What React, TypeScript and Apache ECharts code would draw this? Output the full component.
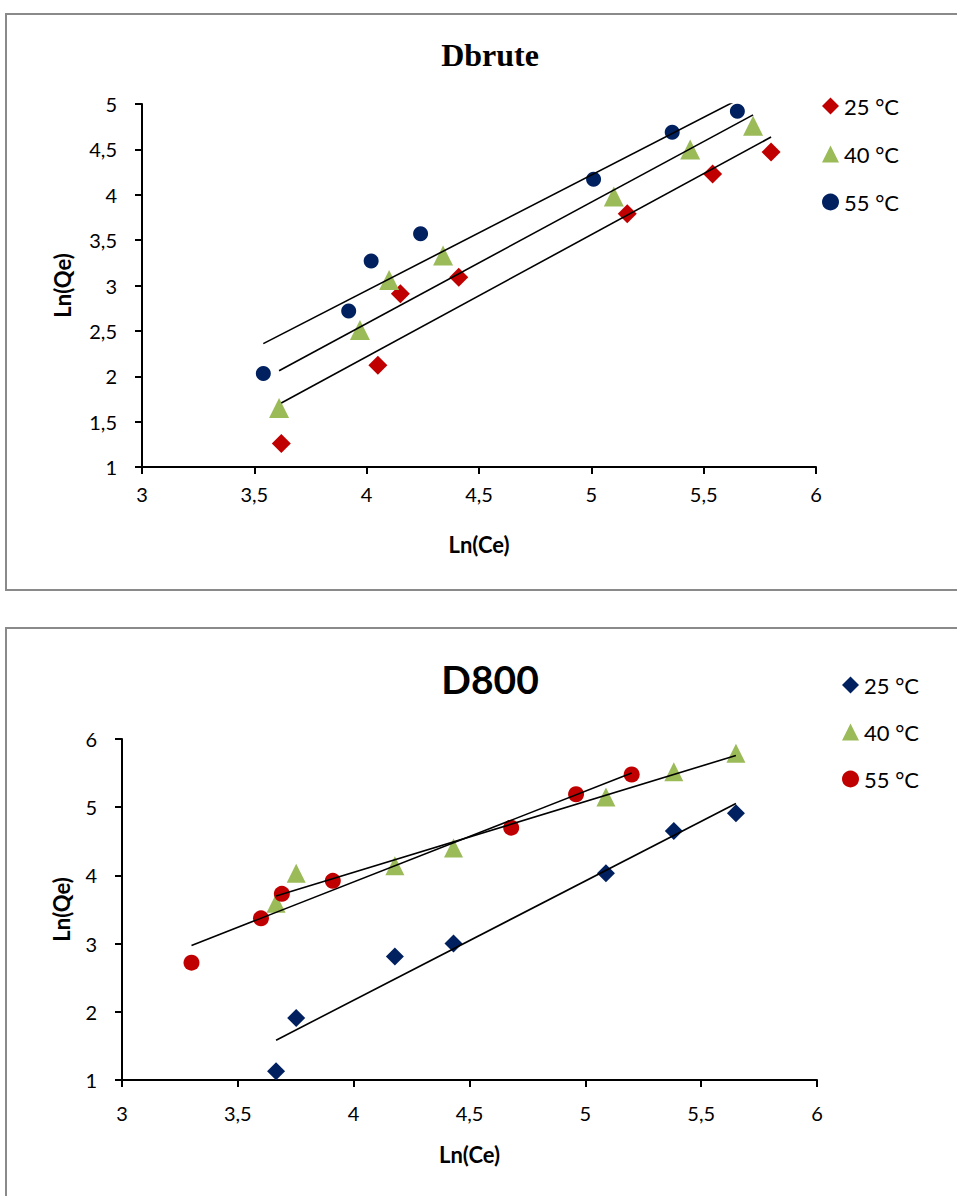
import React, { useEffect, useRef } from "react";
import * as echarts from "echarts";

// Dbrute: Ln(Ce) / Ln(Qe) at three temperatures
const dbruteX25 = [3.62, 4.05, 4.15, 4.41, 5.16, 5.54, 5.8];
const dbruteY25 = [1.26, 2.12, 2.91, 3.09, 3.79, 4.23, 4.47];
const dbruteX40 = [3.61, 3.97, 4.1, 4.34, 5.1, 5.44, 5.72];
const dbruteY40 = [1.65, 2.51, 3.06, 3.33, 3.98, 4.5, 4.76];
const dbruteX55 = [3.54, 3.92, 4.02, 4.24, 5.01, 5.36, 5.65];
const dbruteY55 = [2.03, 2.72, 3.27, 3.57, 4.17, 4.69, 4.92];

// D800: Ln(Ce) / Ln(Qe) at three temperatures
const d800X25 = [3.665, 3.752, 4.178, 4.431, 5.089, 5.382, 5.65];
const d800Y25 = [1.13, 1.91, 2.81, 3.0, 4.03, 4.65, 4.91];
const d800X40 = [3.665, 3.752, 4.178, 4.431, 5.089, 5.382, 5.65];
const d800Y40 = [3.59, 4.03, 4.14, 4.4, 5.15, 5.52, 5.79];
const d800X55 = [3.3, 3.6, 3.69, 3.91, 4.68, 4.96, 5.2];
const d800Y55 = [2.72, 3.37, 3.73, 3.92, 4.7, 5.19, 5.48];

const seriesNames = ["25 °C", "40 °C", "55 °C"];

const RED = "#C00000";
const GREEN = "#9BBB59";
const NAVY = "#002060";
const CALIBRI = "Lato";

const fmt = (v: number) => String(v).replace(".", ",");

const pairs = (xs: number[], ys: number[]) => xs.map((x, i) => [x, ys[i]]);

// Least-squares linear trendline spanning the x range of the points
function trend(xs: number[], ys: number[]) {
  const n = xs.length;
  const mx = xs.reduce((a, b) => a + b, 0) / n;
  const my = ys.reduce((a, b) => a + b, 0) / n;
  let sxy = 0;
  let sxx = 0;
  for (let i = 0; i < n; i++) {
    sxy += (xs[i] - mx) * (ys[i] - my);
    sxx += (xs[i] - mx) * (xs[i] - mx);
  }
  const slope = sxy / sxx;
  const b = my - slope * mx;
  const x0 = Math.min(...xs);
  const x1 = Math.max(...xs);
  return [
    [x0, b + slope * x0],
    [x1, b + slope * x1],
  ];
}

const axisCommon = {
  type: "value",
  axisLine: { show: true, onZero: false, lineStyle: { color: "#000", width: 2 } },
  axisTick: { show: true, inside: false, length: 7, lineStyle: { color: "#000", width: 2 } },
  splitLine: { show: false },
  nameLocation: "middle",
  nameTextStyle: { fontFamily: CALIBRI, fontWeight: "bold", fontSize: 22, color: "#000" },
};

const labelStyle = (margin: number) => ({
  formatter: fmt,
  color: "#000",
  fontFamily: CALIBRI,
  fontSize: 20,
  margin,
});

function scatter(name: string, symbol: string, size: number, color: string, xs: number[], ys: number[]) {
  return {
    type: "scatter",
    name,
    symbol,
    symbolSize: size,
    itemStyle: { color, opacity: 1 },
    data: pairs(xs, ys),
    z: 2,
  };
}

function fitLine(name: string, xs: number[], ys: number[]) {
  return {
    type: "line",
    name,
    data: trend(xs, ys),
    symbol: "none",
    clip: true,
    silent: true,
    lineStyle: { color: "#000", width: 1.6 },
    z: 3,
  };
}

const legendBase = {
  orient: "vertical",
  padding: 0,
  itemWidth: 17,
  itemHeight: 17,
  itemGap: 26,
  textStyle: { fontFamily: CALIBRI, fontSize: 22, lineHeight: 22, color: "#000" },
  data: seriesNames,
};

const dbruteOption = {
  animation: false,
  graphic: [
    {
      type: "rect",
      shape: { x: 6, y: 14, width: 1000, height: 576 },
      style: { fill: "none", stroke: "#8a8a8a", lineWidth: 2 },
      silent: true,
    },
    {
      type: "text",
      x: 490,
      y: 55,
      style: {
        text: "Dbrute",
        font: "bold 32px 'Liberation Serif', serif",
        fill: "#000",
        align: "center",
        verticalAlign: "middle",
      },
    },
  ],
  legend: { ...legendBase, left: 822, top: 95 },
  grid: { left: 142, top: 104, width: 674, height: 363 },
  xAxis: {
    ...axisCommon,
    min: 3,
    max: 6,
    interval: 0.5,
    name: "Ln(Ce)",
    nameGap: 66,
    axisLabel: labelStyle(17),
  },
  yAxis: {
    ...axisCommon,
    min: 1,
    max: 5,
    interval: 0.5,
    name: "Ln(Qe)",
    nameGap: 69,
    axisLabel: labelStyle(25),
  },
  series: [
    scatter(seriesNames[0], "diamond", 19, RED, dbruteX25, dbruteY25),
    scatter(seriesNames[1], "triangle", 20, GREEN, dbruteX40, dbruteY40),
    scatter(seriesNames[2], "circle", 15, NAVY, dbruteX55, dbruteY55),
    fitLine("fit25", dbruteX25, dbruteY25),
    fitLine("fit40", dbruteX40, dbruteY40),
    fitLine("fit55", dbruteX55, dbruteY55),
  ],
};

const d800Option = {
  animation: false,
  graphic: [
    {
      type: "rect",
      shape: { x: 6, y: 23, width: 1000, height: 1000 },
      style: { fill: "none", stroke: "#8a8a8a", lineWidth: 2 },
      silent: true,
    },
    {
      type: "text",
      x: 490,
      y: 74,
      style: {
        text: "D800",
        font: `bold 39px ${CALIBRI}, sans-serif`,
        fill: "#000",
        align: "center",
        verticalAlign: "middle",
      },
    },
  ],
  legend: { ...legendBase, left: 842, top: 69, itemGap: 25 },
  grid: { left: 122, top: 134, width: 695, height: 341 },
  xAxis: {
    ...axisCommon,
    min: 3,
    max: 6,
    interval: 0.5,
    name: "Ln(Ce)",
    nameGap: 63,
    axisLabel: labelStyle(23),
  },
  yAxis: {
    ...axisCommon,
    min: 1,
    max: 6,
    interval: 1,
    name: "Ln(Qe)",
    nameGap: 50,
    axisLabel: labelStyle(25),
  },
  series: [
    scatter(seriesNames[0], "diamond", 18, NAVY, d800X25, d800Y25),
    scatter(seriesNames[1], "triangle", 19, GREEN, d800X40, d800Y40),
    scatter(seriesNames[2], "circle", 16, RED, d800X55, d800Y55),
    fitLine("fit25", d800X25, d800Y25),
    fitLine("fit40", d800X40, d800Y40),
    fitLine("fit55", d800X55, d800Y55),
  ],
};

export default function App() {
  const topRef = useRef<HTMLDivElement>(null);
  const bottomRef = useRef<HTMLDivElement>(null);

  useEffect(() => {
    const c1 = echarts.init(topRef.current as HTMLDivElement, undefined, { renderer: "svg" });
    c1.setOption(dbruteOption as any);
    const c2 = echarts.init(bottomRef.current as HTMLDivElement, undefined, { renderer: "svg" });
    c2.setOption(d800Option as any);
    return () => {
      c1.dispose();
      c2.dispose();
    };
  }, []);

  return (
    <div style={{ position: "absolute", left: 0, top: 0, width: 957, height: 1196, background: "#fff", overflow: "hidden" }}>
      <div ref={topRef} style={{ position: "absolute", left: 0, top: 0, width: 957, height: 605 }} />
      <div ref={bottomRef} style={{ position: "absolute", left: 0, top: 605, width: 957, height: 591 }} />
    </div>
  );
}
